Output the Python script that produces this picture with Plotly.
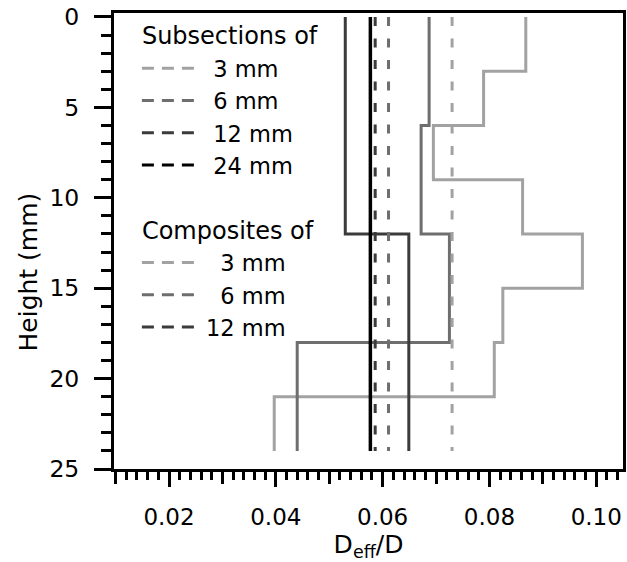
import plotly.graph_objects as go

# ---------------- data ----------------
# Subsection step profiles: section edges (mm) and D_eff/D per section
sub3_edges = [0, 3, 6, 9, 12, 15, 18, 21, 24]
sub3_vals = [0.0868, 0.0789, 0.0695, 0.0862, 0.0974, 0.0825, 0.0809, 0.0397]
sub6_edges = [0, 6, 12, 18, 24]
sub6_vals = [0.0687, 0.0672, 0.0725, 0.0440]
sub12_edges = [0, 12, 24]
sub12_vals = [0.0530, 0.0649]
sub24_edges = [0, 24]
sub24_vals = [0.0577]

sub_labels = ["3 mm", "6 mm", "12 mm", "24 mm"]

# Composite values (one value over the whole height)
comp_labels = ["3 mm", "6 mm", "12 mm"]
comp_vals = [0.0730, 0.0611, 0.0586]
comp_extent = [0, 24]

# ---------------- styling ----------------
FONT = "DejaVu Sans"
NB = "\u00a0"
c_light, c_mid, c_dark, c_black = "#a2a2a2", "#6e6e6e", "#3b3b3b", "#000000"
sub_colors = [c_light, c_mid, c_dark, c_black]
comp_colors = [c_light, c_mid, c_dark]
sub_widths = [3, 3, 3, 3.5]
sub_pad = NB * 2
comp_pad = [NB * 3, NB * 3, NB]

fig = go.Figure()

# solid step profiles for subsections
for edges, vals, col, w in zip(
    [sub3_edges, sub6_edges, sub12_edges, sub24_edges],
    [sub3_vals, sub6_vals, sub12_vals, sub24_vals],
    sub_colors, sub_widths,
):
    xs = list(vals) + [vals[-1]]
    fig.add_trace(go.Scatter(
        x=xs, y=edges, mode="lines", line_shape="vh",
        line=dict(color=col, width=w), showlegend=False, hoverinfo="skip",
    ))

# dashed vertical lines for composites
for v, col in zip(comp_vals, comp_colors):
    fig.add_trace(go.Scatter(
        x=[v, v], y=comp_extent, mode="lines",
        line=dict(color=col, width=3, dash="9px,12.5px"),
        showlegend=False, hoverinfo="skip",
    ))

# legend entries (as in the original, shown with dashed samples)
for i, (lab, col) in enumerate(zip(sub_labels, sub_colors)):
    fig.add_trace(go.Scatter(
        x=[None], y=[None], xaxis="x2", mode="lines", name=sub_pad + lab,
        line=dict(color=col, width=3, dash="12px,8px"),
        legendgroup="sub", legendgrouptitle_text="Subsections of" if i == 0 else None,
    ))
for i, (lab, col, pad) in enumerate(zip(comp_labels, comp_colors, comp_pad)):
    fig.add_trace(go.Scatter(
        x=[None], y=[None], xaxis="x2", mode="lines", name=pad + lab,
        line=dict(color=col, width=3, dash="12px,8px"),
        legendgroup="comp", legendgrouptitle_text="Composites of" if i == 0 else None,
    ))

x_range = [0.0097, 0.105]
y_range = [25, -0.22]

fig.update_layout(
    width=627, height=562,
    margin=dict(l=114, r=1, t=13, b=93),
    paper_bgcolor="white", plot_bgcolor="white",
    font=dict(family=FONT, color="black", size=23),
    showlegend=True,
    legend=dict(
        x=0.045, y=1.0, xanchor="left", yanchor="top",
        bgcolor="rgba(0,0,0,0)", borderwidth=0,
        font=dict(family=FONT, size=22.5, color="black"),
        grouptitlefont=dict(family=FONT, size=24, color="black"),
        traceorder="grouped", tracegroupgap=31, itemwidth=52,
    ),
    xaxis=dict(
        range=x_range, showline=True, linewidth=3, linecolor="black", mirror=True,
        ticks="outside", tickmode="linear", tick0=0, dtick=0.01,
        ticklen=12, tickwidth=3, tickcolor="black", showticklabels=False,
        showgrid=False, zeroline=False,
        minor=dict(ticks="outside", tickmode="linear", tick0=0, dtick=0.002,
                   ticklen=8, tickwidth=3, tickcolor="black", showgrid=False),
    ),
    xaxis2=dict(
        range=x_range, overlaying="x", anchor="y", side="bottom",
        showline=False, ticks="outside", tickmode="linear", tick0=0, dtick=0.02,
        ticklen=17, tickwidth=3, tickcolor="black", tickformat=".2f",
        ticklabelstandoff=10,
        tickfont=dict(family=FONT, size=23, color="black"),
        showgrid=False, zeroline=False,
        title=dict(text="D<sub>eff</sub>/D", font=dict(family=FONT, size=25), standoff=2),
    ),
    yaxis=dict(
        range=y_range, showline=True, linewidth=3, linecolor="black", mirror=True,
        ticks="outside", tickmode="linear", tick0=0, dtick=5,
        ticklen=17, tickwidth=3, tickcolor="black", ticklabelstandoff=10,
        tickfont=dict(family=FONT, size=23.5, color="black"),
        showgrid=False, zeroline=False,
        minor=dict(ticks="outside", tickmode="linear", tick0=0, dtick=1,
                   ticklen=10, tickwidth=3, tickcolor="black", showgrid=False),
    ),
    annotations=[dict(
        text="Height (mm)", xref="paper", yref="paper", x=-0.168, y=0.432,
        textangle=-90, showarrow=False, xanchor="center", yanchor="middle",
        font=dict(family=FONT, size=25, color="black"),
    )],
)

fig.write_html(
    "out.html",
    config={"displayModeBar": False},
    post_script="document.body.style.margin='0';document.body.style.overflow='hidden';",
)
